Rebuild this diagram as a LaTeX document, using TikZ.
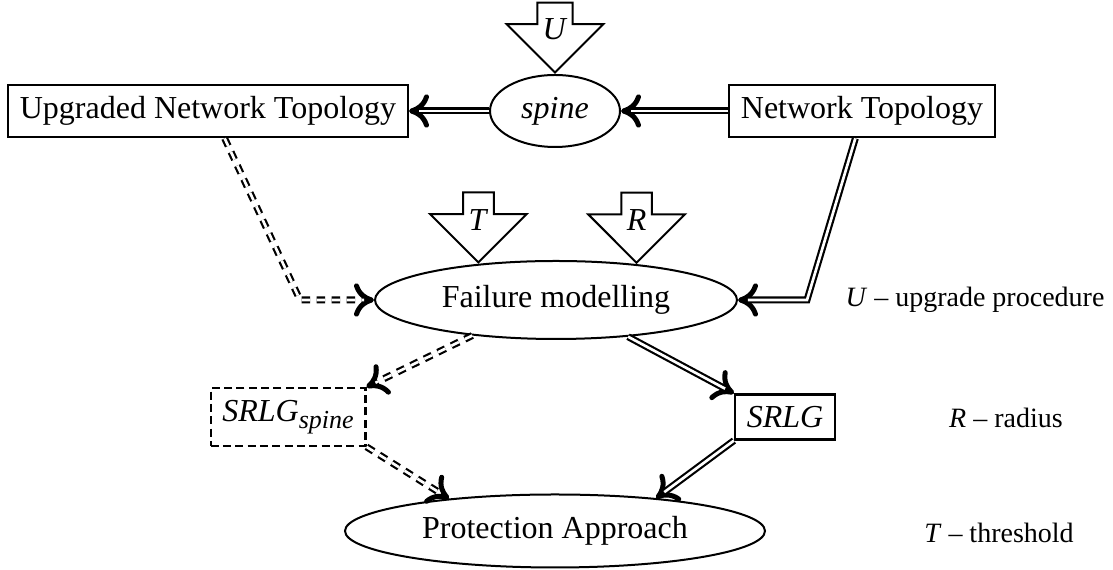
\documentclass[tikz,border=0pt]{standalone}
\usepackage{fontspec}
\setmainfont{Liberation Serif}
\usepackage{tikz}
\usetikzlibrary{arrows.meta, positioning, shapes.geometric, shapes.arrows, calc}

\begin{document}
\begin{tikzpicture}[x=0.3pt, y=-0.3pt,
          every node/.style={font=\fontsize{9.6pt}{11pt}\selectfont},
          box/.style={rectangle, draw, line width=0.7pt, inner sep=3.5pt},
          oval/.style={ellipse, draw, line width=0.6pt, inner sep=0pt},
          inarrow/.style={single arrow, draw, line width=0.6pt, shape border rotate=270,
                          minimum height=21pt, minimum width=29pt, inner sep=0pt,
                          single arrow head extend=7pt, single arrow tip angle=90},
          note/.style={font=\fontsize{8.4pt}{10pt}\selectfont},
          dep/.style={line width=2.1pt, -{To[length=6pt, width=10pt, line width=1.5pt]},
                      postaction={draw=white, line width=0.8pt, -, shorten >=3pt}},
          depdash/.style={dep, dash pattern=on 2.5pt off 2pt}]
          \useasboundingbox (0,0) rectangle (1113,570);

          % Nodes
          \node[box] (upg) at (208,111) {Upgraded Network Topology};
          \node[oval, minimum width=39pt, minimum height=21.6pt] (spine) at (555,111) {\textit{spine}};
          \node[box] (net) at (862,111) {Network Topology};
          \node[oval, minimum width=108.6pt, minimum height=23.4pt] (fail) at (556,300) {Failure modelling};
          \node[box, dash pattern=on 2.4pt off 1.3pt] (srlgs) at (288,417)
               {\textit{SRLG}\raisebox{-0.5ex}{\fontsize{7.8pt}{8pt}\selectfont\textit{spine}}};
          \node[box] (srlg) at (785,417) {\textit{SRLG}};
          \node[oval, minimum width=126pt, minimum height=21.9pt] (prot) at (555,531) {Protection Approach};

          % Inputs
          \node[inarrow, anchor=tip] (uin) at (spine.north) {\textit{U}};
          \node[inarrow, anchor=tip] (tin) at (fail.155.6) {\textit{T}};
          \node[inarrow, anchor=tip] (rin) at (fail.24.7) {\textit{R}};

          % Legend
          \node[note] (lu) at (975,300) {\textit{U} -- upgrade procedure};
          \node[note] (lr) at (1006,418) {\textit{R} -- radius};
          \node[note] (lt) at (999,533) {\textit{T} -- threshold};

          % Bends
          \coordinate (bendl) at (300,300);
          \coordinate (bendr) at (807,300);

          % Dependencies
          \draw[dep] (net) -- (spine);
          \draw[dep] (spine) -- (upg);
          \draw[depdash] ([xshift=5pt]upg.south) -- (bendl) -- (fail.west);
          \draw[dep] ([xshift=-2pt]net.south) -- (bendr) -- (fail.east);
          \draw[depdash] (fail.203.4) -- (srlgs.north east);
          \draw[dep] (fail.333.8) -- (srlg.north west);
          \draw[depdash] (srlgs.south east) -- (prot.163.6);
          \draw[dep] (srlg.south west) -- (prot.18.9);
        \end{tikzpicture}
\end{document}
